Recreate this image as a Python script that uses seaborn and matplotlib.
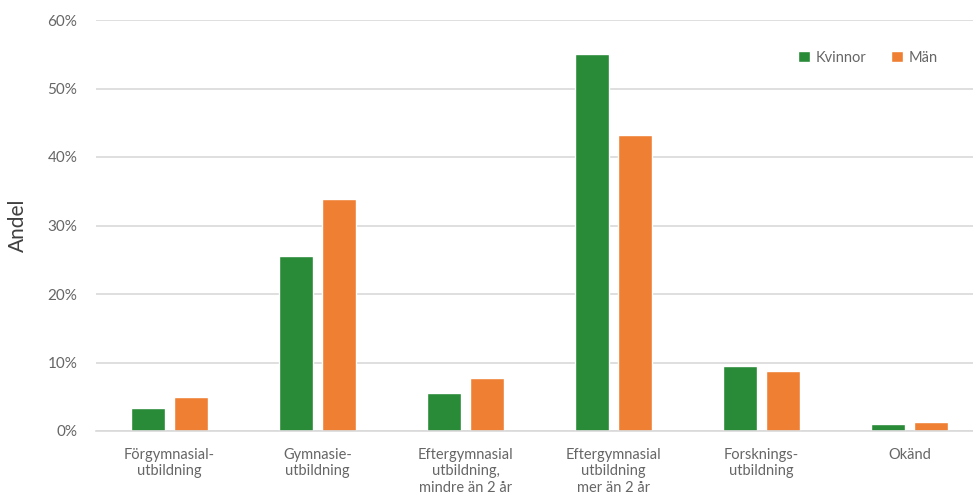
import matplotlib
matplotlib.use("Agg")
import matplotlib.pyplot as plt
import seaborn as sns
import pandas as pd
from matplotlib.ticker import FuncFormatter

categories = [
    "Förgymnasial-\nutbildning",
    "Gymnasie-\nutbildning",
    "Eftergymnasial\nutbildning,\nmindre än 2 år",
    "Eftergymnasial\nutbildning\nmer än 2 år",
    "Forsknings-\nutbildning",
    "Okänd",
]
kvinnor = [3.3, 25.5, 5.5, 55.1, 9.5, 1.0]
man = [4.9, 33.8, 7.8, 43.2, 8.8, 1.3]
series_names = ["Kvinnor", "Män"]
colors = ["#298a38", "#ef8033"]
yticks = [0, 10, 20, 30, 40, 50, 60]

df = pd.DataFrame({
    "Kategori": categories * 2,
    "Andel": kvinnor + man,
    "Kön": [series_names[0]] * len(categories) + [series_names[1]] * len(categories),
})

sns.set_theme(style="whitegrid")
plt.rcParams["font.family"] = ["Lato", "DejaVu Sans"]

fig = plt.figure(figsize=(9.73, 4.97), dpi=100)
ax = fig.add_axes([95.5 / 973, 1 - 431 / 497, 888 / 973, (431 - 20) / 497])

sns.barplot(data=df, x="Kategori", y="Andel", hue="Kön", palette=colors,
            width=0.575, gap=0.21, ax=ax, saturation=1, legend=True)

ax.set_ylim(0, 60)
ax.set_yticks(yticks)
ax.yaxis.set_major_formatter(FuncFormatter(lambda v, p: f"{int(v)}%"))
ax.set_xlim(-0.5, len(categories) - 0.5)
ax.grid(axis="y", color="#d9d9d9", linewidth=1.2)
ax.grid(axis="x", visible=False)
for s in ["left", "right", "top"]:
    ax.spines[s].set_visible(False)
ax.spines["bottom"].set_color("#d9d9d9")
ax.spines["bottom"].set_linewidth(1.2)
ax.tick_params(axis="y", length=0, labelsize=11, labelcolor="#666666", pad=13)
ax.tick_params(axis="x", length=0, labelsize=10.5, labelcolor="#666666", pad=12)
for lbl in ax.get_xticklabels():
    lbl.set_linespacing(1.25)
ax.set_xlabel("")
ax.set_ylabel("Andel", fontsize=15, color="#404040", labelpad=14)

leg = ax.legend(loc="upper right", bbox_to_anchor=(0.963, 0.957), ncol=2, frameon=False,
                fontsize=10.5, handlelength=0.8, handleheight=0.8, columnspacing=1.7,
                handletextpad=0.4, title=None)
for t in leg.get_texts():
    t.set_color("#666666")

fig.savefig("out.png", dpi=100)
